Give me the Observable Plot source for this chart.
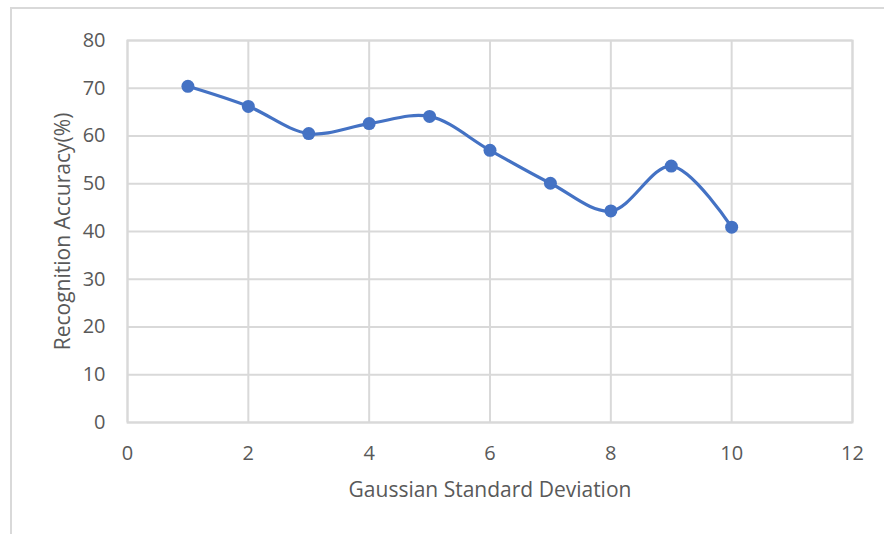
<!DOCTYPE html>
<html>
<head>
<meta charset="utf-8">
<script src="https://cdn.jsdelivr.net/npm/d3@7"></script>
<script src="https://cdn.jsdelivr.net/npm/@observablehq/plot@0.6"></script>
<style>
  html, body { margin: 0; padding: 0; background: #fff; }
  #wrap { position: relative; width: 884px; height: 534px; overflow: hidden; }
  #border { position: absolute; left: 10px; top: 7px; width: 900px; height: 600px;
            border-top: 2px solid #d9d9d9; border-left: 2px solid #d9d9d9; box-sizing: border-box; }
  #chart { position: absolute; left: 0; top: 0; }
</style>
</head>
<body>
<div id="wrap"><div id="border"></div><div id="chart"></div></div>
<script>
const sigma = [1, 2, 3, 4, 5, 6, 7, 8, 9, 10];
const accuracy = [70.4, 66.2, 60.5, 62.6, 64.1, 57.0, 50.1, 44.3, 53.7, 40.9];
const xTicks = [0, 2, 4, 6, 8, 10, 12];
const yTicks = [0, 10, 20, 30, 40, 50, 60, 70, 80];
const xLabel = "Gaussian Standard Deviation";
const yLabel = "Recognition Accuracy(%)";

const data = sigma.map((s, i) => ({ s, a: accuracy[i] }));
const blue = "#4472C4";
const grid = "#d9d9d9";
const textCol = "#595959";

const chart = Plot.plot({
  width: 884,
  height: 534,
  marginLeft: 127,
  marginTop: 40,
  marginRight: 32,
  marginBottom: 112,
  style: { fontFamily: "'Open Sans', sans-serif", fontSize: "20px", color: textCol, background: "transparent" },
  x: { domain: [0, 12] },
  y: { domain: [0, 80] },
  marks: [
    Plot.gridX(xTicks, { stroke: grid, strokeOpacity: 1, strokeWidth: 2 }),
    Plot.gridY(yTicks, { stroke: grid, strokeOpacity: 1, strokeWidth: 2 }),
    Plot.frame({ stroke: grid, strokeWidth: 2 }),
    Plot.axisX(xTicks, { tickSize: 0, tickPadding: 23, label: null, fill: textCol, fontSize: 20 }),
    Plot.axisY(yTicks, { tickSize: 0, tickPadding: 22, label: null, fill: textCol, fontSize: 20 }),
    Plot.axisX({ ticks: [], label: xLabel, labelAnchor: "center", labelArrow: "none", labelOffset: 74, fill: textCol, fontSize: 21 }),
    Plot.axisY({ ticks: [], label: yLabel, labelAnchor: "center", labelArrow: "none", labelOffset: 72, fill: textCol, fontSize: 21 }),
    Plot.line(data, { x: "s", y: "a", stroke: blue, strokeWidth: 3.2, curve: "catmull-rom" }),
    Plot.dot(data, { x: "s", y: "a", fill: blue, r: 6.5 })
  ]
});
document.getElementById("chart").appendChild(chart);
</script>
</body>
</html>
